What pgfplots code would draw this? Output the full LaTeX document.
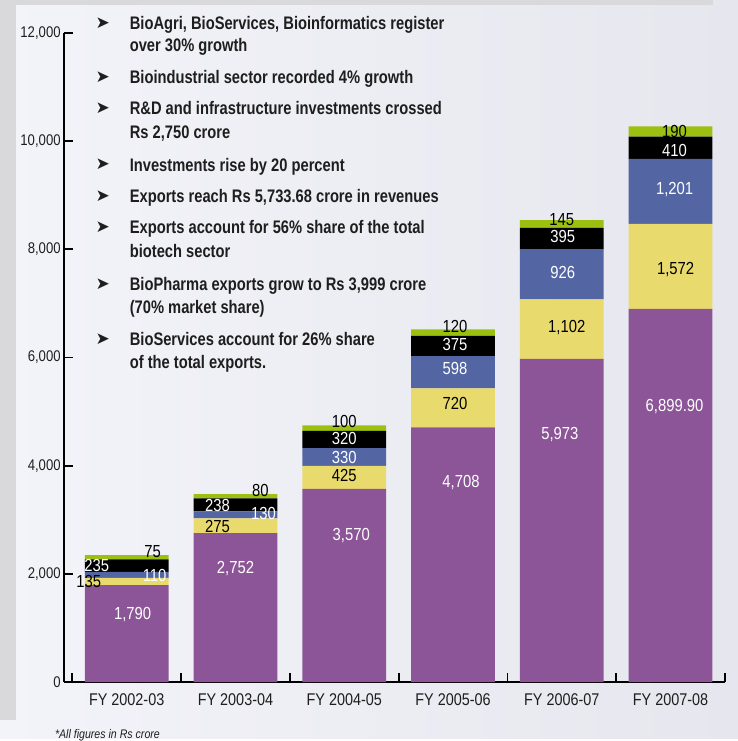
\documentclass[border=0pt]{standalone}
\usepackage{fontspec}
\setmainfont{Liberation Sans}[FakeStretch=0.85]
\newfontfamily\bnarrow{Liberation Sans}[FakeStretch=0.81]
\newfontfamily\dejavu{DejaVu Sans}
\usepackage{pgfplots}
\pgfplotsset{compat=1.18}
\definecolor{cPurple}{HTML}{8C5597}
\definecolor{cYellow}{HTML}{E9DA6E}
\definecolor{cBlue}{HTML}{5366A3}
\definecolor{cGreen}{HTML}{9BC010}
\definecolor{cGrayBg}{HTML}{D9D9DB}
\definecolor{cPanelL}{HTML}{F3F4F9}
\definecolor{cPanelR}{HTML}{E6E6EE}
\definecolor{cText}{HTML}{1E1E1E}
\tikzset{lab/.style={font=\fontsize{17.5}{17.5}\selectfont, inner sep=0pt, anchor=center}}
\begin{document}
\begin{tikzpicture}
\begin{scope}[x=1pt,y=-1pt]
  \shade[left color=cPanelL, right color=cPanelR] (0,0) rectangle (740,741);
  \fill[cGrayBg] (0,0) rectangle (715,5);
  \fill[cGrayBg] (0,0) rectangle (16,722);
  \useasboundingbox (0,0) rectangle (740,741);
\end{scope}
\begin{axis}[
  at={(64pt,-684pt)}, anchor=south west,
  scale only axis, width=663pt, height=651pt,
  xmin=-0.578, xmax=5.5, ymin=0, ymax=12000,
  axis x line=bottom, axis y line=left,
  axis line style={-, line width=2.4pt, black},
  ybar stacked, bar width=0.77,
  clip=false,
  tick align=inside,
  major tick length=9pt,
  every tick/.style={black, line width=1.8pt},
  xtick={-0.5,0.5,1.5,2.5,3.5,4.5,5.5},
  xticklabels={},
  extra x ticks={0,1,2,3,4,5},
  extra x tick labels={FY 2002-03,FY 2003-04,FY 2004-05,FY 2005-06,FY 2006-07,FY 2007-08},
  extra x tick style={major tick length=0pt},
  xticklabel style={font=\fontsize{17}{17}\selectfont, text=cText, inner sep=0pt, yshift=-11pt},
  ytick={0,2000,4000,6000,8000,10000,12000},
  scaled y ticks=false,
  yticklabel style={font=\fontsize{15.5}{15.5}\selectfont, text=cText, inner sep=0pt, xshift=-3pt,
    /pgf/number format/.cd, 1000 sep={,}, assume math mode=true},
]
\addplot[fill=cPurple, draw=none] coordinates {(0,1790) (1,2752) (2,3570) (3,4708) (4,5973) (5,6899.90)};
\addplot[fill=cYellow, draw=none] coordinates {(0,135) (1,275) (2,425) (3,720) (4,1102) (5,1572)};
\addplot[fill=cBlue, draw=none] coordinates {(0,110) (1,130) (2,330) (3,598) (4,926) (5,1201)};
\addplot[fill=black, draw=none] coordinates {(0,235) (1,238) (2,320) (3,375) (4,395) (5,410)};
\addplot[fill=cGreen, draw=none] coordinates {(0,75) (1,80) (2,100) (3,120) (4,145) (5,190)};
% label anchor points
\coordinate (a1) at (axis cs:0.055,1253);
\coordinate (a2) at (axis cs:-0.349,1862);
\coordinate (a3) at (axis cs:0.257,1972);
\coordinate (a4) at (axis cs:-0.275,2157);
\coordinate (a5) at (axis cs:0.239,2415);
\coordinate (b1) at (axis cs:1.0,2101);
\coordinate (b2) at (axis cs:0.835,2876);
\coordinate (b3) at (axis cs:1.257,3115);
\coordinate (b4) at (axis cs:0.835,3263);
\coordinate (b5) at (axis cs:1.229,3539);
\coordinate (c1) at (axis cs:2.064,2710);
\coordinate (c2) at (axis cs:2.0,3816);
\coordinate (c3) at (axis cs:2.0,4147);
\coordinate (c4) at (axis cs:2.0,4498);
\coordinate (c5) at (axis cs:2.0,4811);
\coordinate (d1) at (axis cs:3.073,3687);
\coordinate (d2) at (axis cs:3.018,5143);
\coordinate (d3) at (axis cs:3.018,5788);
\coordinate (d4) at (axis cs:3.018,6249);
\coordinate (d5) at (axis cs:3.018,6581);
\coordinate (e1) at (axis cs:3.982,4571);
\coordinate (e2) at (axis cs:4.046,6562);
\coordinate (e3) at (axis cs:4.009,7576);
\coordinate (e4) at (axis cs:4.009,8240);
\coordinate (e5) at (axis cs:4.0,8553);
\coordinate (f1) at (axis cs:5.037,5088);
\coordinate (f2) at (axis cs:5.046,7631);
\coordinate (f3) at (axis cs:5.037,9106);
\coordinate (f4) at (axis cs:5.037,9825);
\coordinate (f5) at (axis cs:5.037,10175);
\end{axis}
% value labels
\node[lab, white] at (a1) {1,790};
\node[lab, black] at (a2) {135};
\node[lab, white] at (a3) {110};
\node[lab, white] at (a4) {235};
\node[lab, black] at (a5) {75};
\node[lab, white] at (b1) {2,752};
\node[lab, black] at (b2) {275};
\node[lab, white] at (b3) {130};
\node[lab, white] at (b4) {238};
\node[lab, black] at (b5) {80};
\node[lab, white] at (c1) {3,570};
\node[lab, black] at (c2) {425};
\node[lab, white] at (c3) {330};
\node[lab, white] at (c4) {320};
\node[lab, black] at (c5) {100};
\node[lab, white] at (d1) {4,708};
\node[lab, black] at (d2) {720};
\node[lab, white] at (d3) {598};
\node[lab, white] at (d4) {375};
\node[lab, black] at (d5) {120};
\node[lab, white] at (e1) {5,973};
\node[lab, black] at (e2) {1,102};
\node[lab, white] at (e3) {926};
\node[lab, white] at (e4) {395};
\node[lab, black] at (e5) {145};
\node[lab, white] at (f1) {6,899.90};
\node[lab, black] at (f2) {1,572};
\node[lab, white] at (f3) {1,201};
\node[lab, white] at (f4) {410};
\node[lab, black] at (f5) {190};
\begin{scope}[x=1pt,y=-1pt, txt/.style={anchor=base west, inner sep=0pt, text=cText, font=\fontsize{18.2}{18.2}\selectfont\bnarrow\bfseries},
  arr/.style={anchor=center, inner sep=0pt, text=cText, font=\fontsize{17}{17}\selectfont\dejavu}]
  \node[txt] at (130,29.5) {BioAgri, BioServices, Bioinformatics register};
  \node[txt] at (130,51.5) {over 30\% growth};
  \node[txt] at (130,83.5) {Bioindustrial sector recorded 4\% growth};
  \node[txt] at (130,114.5) {R\&D and infrastructure investments crossed};
  \node[txt] at (130,138.5) {Rs 2,750 crore};
  \node[txt] at (130,171.5) {Investments rise by 20 percent};
  \node[txt] at (130,203.5) {Exports reach Rs 5,733.68 crore in revenues};
  \node[txt] at (130,234.5) {Exports account for 56\% share of the total};
  \node[txt] at (130,258.5) {biotech sector};
  \node[txt] at (130,291.5) {BioPharma exports grow to Rs 3,999 crore};
  \node[txt] at (130,314.5) {(70\% market share)};
  \node[txt] at (130,346.5) {BioServices account for 26\% share};
  \node[txt] at (130,369.5) {of the total exports.};
  \foreach \yy in {23,77,108,165,197,228,285,340} {
    \node[arr] at (103,\yy) {➤};
  }
  \node[anchor=base west, inner sep=0pt, text=cText, font=\fontsize{12.5}{12.5}\selectfont\itshape] at (55,740.5) {*All figures in Rs crore};
\end{scope}
\end{tikzpicture}
\end{document}
